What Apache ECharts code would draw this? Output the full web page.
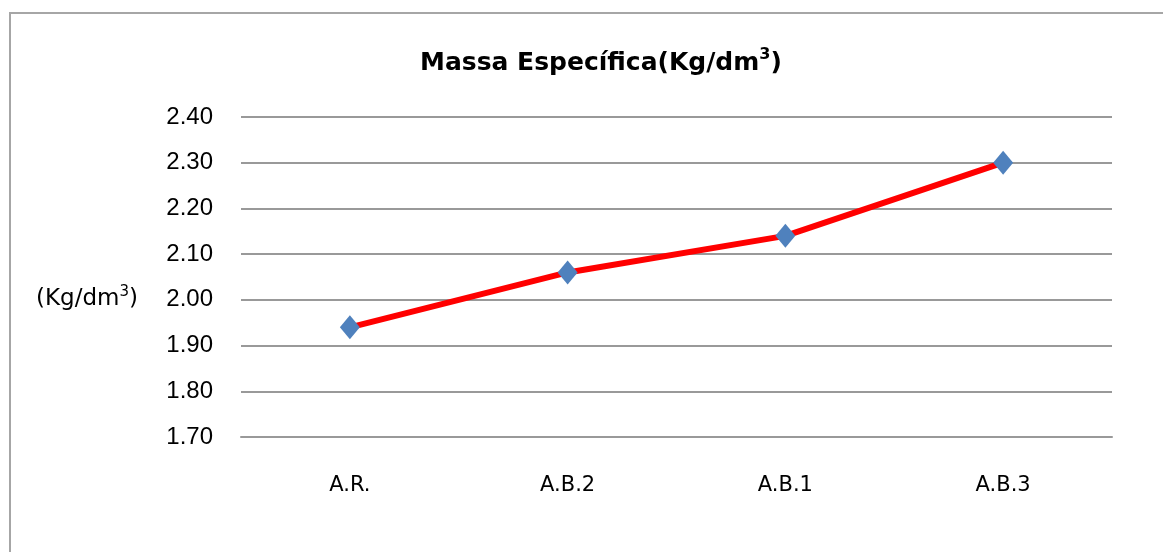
<!DOCTYPE html>
<html>
<head>
<meta charset="utf-8">
<script src="https://cdn.jsdelivr.net/npm/echarts@6/dist/echarts.min.js"></script>
<style>
html,body{margin:0;padding:0;background:#fff;}
#chart{width:1163px;height:552px;}
</style>
</head>
<body>
<div id="chart"></div>
<script>
const categories = ['A.R.', 'A.B.2', 'A.B.1', 'A.B.3'];
const values = [1.94, 2.06, 2.14, 2.30];
const yMin = 1.7, yMax = 2.4, yInterval = 0.1;

const chart = echarts.init(document.getElementById('chart'));
chart.setOption({
  animation: false,
  backgroundColor: '#fff',
  title: {
    text: '{t|Massa Específica(Kg/dm}{s|3}{t|)}',
    left: 415,
    top: 42,
    textStyle: {
      fontSize: 25,
      fontWeight: 'bold',
      fontFamily: 'DejaVu Sans',
      rich: {
        t: { fontFamily: 'DejaVu Sans', fontWeight: 'bold', fontSize: 25, color: '#000', lineHeight: 32 },
        s: { fontFamily: 'DejaVu Sans', fontWeight: 'bold', fontSize: 16, color: '#000', lineHeight: 32, verticalAlign: 'top' }
      }
    }
  },
  graphic: [
    {
      type: 'rect',
      shape: { x: 10, y: 13, width: 1300, height: 700 },
      style: { fill: 'none', stroke: '#a6a6a6', lineWidth: 2 },
      silent: true
    },
    {
      type: 'text',
      left: 36,
      top: 285,
      style: {
        text: '{t|(Kg/dm}{s|3}{t|)}',
        rich: {
          t: { fontFamily: 'DejaVu Sans', fontSize: 23, color: '#000', lineHeight: 29 },
          s: { fontFamily: 'DejaVu Sans', fontSize: 15, color: '#000', lineHeight: 29, verticalAlign: 'top' }
        }
      }
    }
  ],
  grid: { left: 241, right: 51, top: 117, bottom: 115 },
  xAxis: {
    type: 'category',
    data: categories,
    boundaryGap: true,
    axisLine: { show: true, lineStyle: { color: '#999', width: 2 } },
    axisTick: { show: false },
    axisLabel: { margin: 38, fontFamily: 'DejaVu Sans', fontSize: 21, color: '#000' },
    splitLine: { show: false }
  },
  yAxis: {
    type: 'value',
    min: yMin,
    max: yMax,
    interval: yInterval,
    axisLine: { show: false },
    axisTick: { show: false },
    axisLabel: {
      margin: 28,
      fontFamily: 'Liberation Sans',
      fontSize: 24,
      color: '#000',
      formatter: v => v.toFixed(2)
    },
    splitLine: { show: true, lineStyle: { color: '#999', width: 2 } }
  },
  series: [{
    type: 'line',
    data: values,
    symbol: 'diamond',
    symbolSize: [20, 24],
    lineStyle: { color: '#ff0000', width: 6 },
    itemStyle: { color: '#4f81bd' },
    z: 3
  }]
});
</script>
</body>
</html>
